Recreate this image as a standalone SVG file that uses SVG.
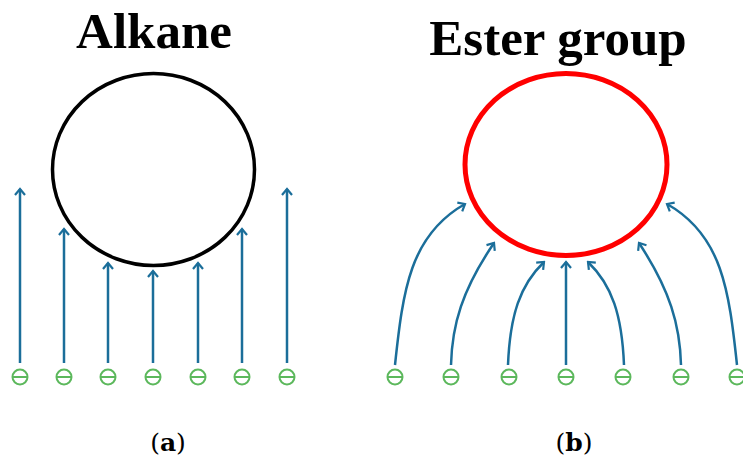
<svg xmlns="http://www.w3.org/2000/svg" width="743" height="458" viewBox="0 0 743 458">
<style>
.title{font-family:"Liberation Serif","Times New Roman",serif;font-weight:bold;font-size:51px;fill:#000;text-anchor:middle}
.lab{font-family:"DejaVu Serif",serif;font-size:25px;fill:#000;text-anchor:middle}
.arr{fill:none;stroke:#1b6e9a;stroke-width:2.5;marker-end:url(#ah)}
</style>
<defs>
<marker id="ah" viewBox="-8 -7 10 14" markerWidth="10" markerHeight="14" refX="0" refY="0" orient="auto" markerUnits="userSpaceOnUse">
<path d="M-6,-5 L0,0 L-6,5" fill="none" stroke="#1b6e9a" stroke-width="2.2" stroke-linejoin="miter"/>
</marker>
<g id="minus" fill="none" stroke="#5cb85c" stroke-width="2"><circle cx="0" cy="0" r="7.5"/><line x1="-7.5" y1="0" x2="7.5" y2="0"/></g>
</defs>
<rect width="743" height="458" fill="#fff"/>

<g id="panel-a">
<text class="title" x="154" y="48">Alkane</text>
<g id="alkane"><ellipse cx="153.5" cy="169.5" rx="101" ry="96" fill="none" stroke="#000" stroke-width="3.5"/></g>
<g id="connectors-a">
<path class="arr" d="M20,363 L20,189"/>
<path class="arr" d="M64,363 L64,229"/>
<path class="arr" d="M108,363 L108,263"/>
<path class="arr" d="M153,363 L153,271"/>
<path class="arr" d="M198,363 L198,263"/>
<path class="arr" d="M242,363 L242,229"/>
<path class="arr" d="M287,363 L287,189"/>
</g>
<g id="charges-a">
<use href="#minus" x="20" y="377"/>
<use href="#minus" x="64" y="377"/>
<use href="#minus" x="108" y="377"/>
<use href="#minus" x="153" y="377"/>
<use href="#minus" x="198" y="377"/>
<use href="#minus" x="242" y="377"/>
<use href="#minus" x="287" y="377"/>
</g>
<text class="lab" x="168" y="451">(<tspan font-weight="bold">a</tspan>)</text>
</g>

<g id="panel-b">
<text class="title" x="558" y="55">Ester group</text>
<g id="ester"><ellipse cx="566" cy="164.5" rx="101" ry="91" fill="none" stroke="#ff0000" stroke-width="5"/></g>
<g id="connectors-b">
<path class="arr" d="M395,365 C403,290 410,235 465,204"/>
<path class="arr" d="M451,365 C452,325 462,290 494,243"/>
<path class="arr" d="M508,365 C510,315 520,285 544,262"/>
<path class="arr" d="M566,365 L566,262"/>
<path class="arr" d="M624,365 C622,315 612,285 588,262"/>
<path class="arr" d="M681,365 C680,325 670,290 639,243"/>
<path class="arr" d="M737,365 C729,290 722,235 667,204"/>
</g>
<g id="charges-b">
<use href="#minus" x="395" y="377"/>
<use href="#minus" x="451" y="377"/>
<use href="#minus" x="509" y="377"/>
<use href="#minus" x="566" y="377"/>
<use href="#minus" x="623" y="377"/>
<use href="#minus" x="681" y="377"/>
<use href="#minus" x="737" y="377"/>
</g>
<text class="lab" x="574" y="451">(<tspan font-weight="bold">b</tspan>)</text>
</g>
</svg>
